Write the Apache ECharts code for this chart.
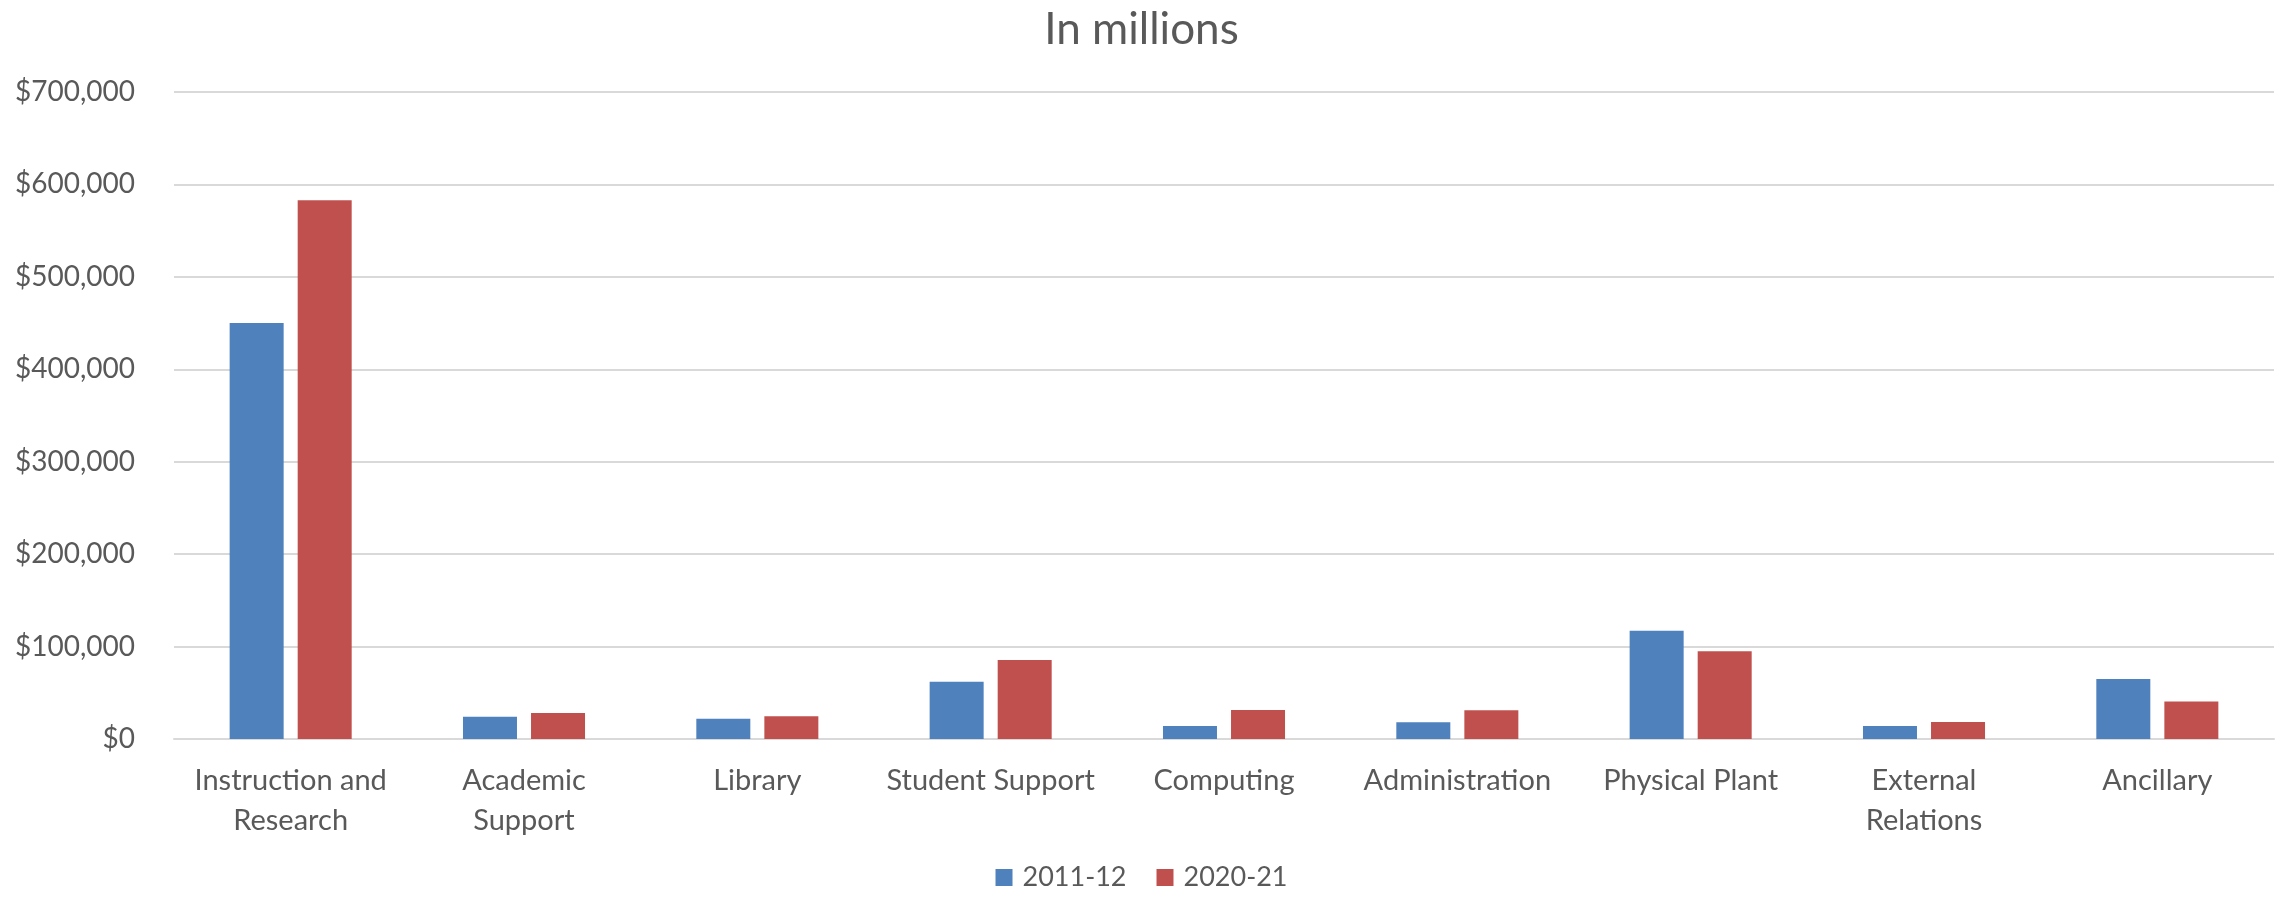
<!DOCTYPE html>
<html lang="en">
<head>
  <meta charset="UTF-8">
  <title>In millions</title>
  <script src="https://cdn.jsdelivr.net/npm/echarts@6/dist/echarts.min.js"></script>
  <style>
    * { margin: 0; padding: 0; }
    body { background: #fff; }
    #chart { width: 2283px; height: 899px; }
  </style>
</head>
<body>
  <div id="chart"></div>
  <script>
    // categories and values
    const categories = ['Instruction and\nResearch', 'Academic\nSupport', 'Library', 'Student Support',
      'Computing', 'Administration', 'Physical Plant', 'External\nRelations', 'Ancillary'];
    const seriesNames = ['2011-12', '2020-21'];
    const values2011 = [450000, 24000, 22000, 62000, 14000, 18000, 117000, 14000, 65000];
    const values2020 = [583000, 28000, 24500, 85500, 31500, 31000, 95000, 18500, 40500];
    const yTicks = [0, 100000, 200000, 300000, 400000, 500000, 600000, 700000];

    const textColor = '#595959';
    const font = 'Lato, "Open Sans", sans-serif';

    var myChart = echarts.init(document.getElementById('chart'));
    var option = {
      animation: false,
      title: {
        text: 'In millions',
        left: 'center',
        top: 3,
        textStyle: { fontFamily: font, fontSize: 44, fontWeight: 'normal', color: textColor }
      },
      legend: {
        bottom: 3,
        left: 'center',
        itemWidth: 17,
        itemHeight: 17,
        itemGap: 30,
        icon: 'rect',
        textStyle: { fontFamily: font, fontSize: 27, color: textColor, padding: [0, 0, 0, 5] },
        data: seriesNames
      },
      grid: { left: 174, right: 9, top: 92, bottom: 160 },
      xAxis: {
        type: 'category',
        data: categories,
        axisLine: { lineStyle: { color: '#D9D9D9', width: 2 } },
        axisTick: { show: false },
        axisLabel: { fontFamily: font, fontSize: 29, color: textColor, margin: 22, lineHeight: 40, interval: 0 }
      },
      yAxis: {
        type: 'value',
        min: yTicks[0],
        max: yTicks[yTicks.length - 1],
        interval: 100000,
        axisLine: { show: false },
        axisTick: { show: false },
        splitLine: { lineStyle: { color: '#D9D9D9', width: 2 } },
        axisLabel: {
          fontFamily: font, fontSize: 28, color: textColor, margin: 39,
          formatter: v => '$' + v.toLocaleString('en-US')
        }
      },
      series: [
        {
          name: seriesNames[0],
          type: 'bar',
          data: values2011,
          barWidth: 54,
          barGap: '26%',
          itemStyle: { color: '#4F81BD' }
        },
        {
          name: seriesNames[1],
          type: 'bar',
          data: values2020,
          barWidth: 54,
          barGap: '26%',
          itemStyle: { color: '#C0504D' }
        }
      ]
    };
    option && myChart.setOption(option);
  </script>
</body>
</html>
